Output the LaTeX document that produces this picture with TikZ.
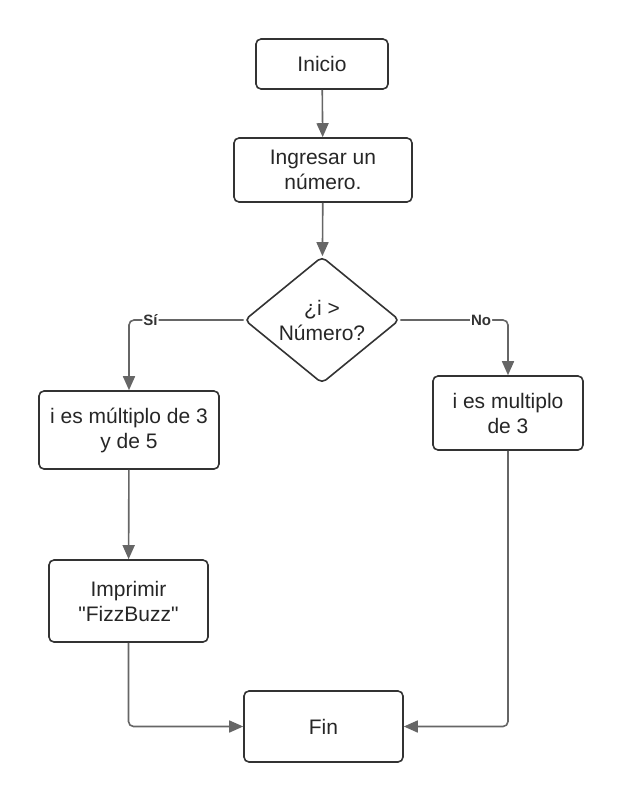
\documentclass[tikz,border=0pt]{standalone}
\usepackage{fontspec}
\setmainfont{Liberation Sans}
\usetikzlibrary{shapes.geometric, arrows.meta, positioning, calc}
\definecolor{borde}{HTML}{333333}
\definecolor{linea}{HTML}{666666}

\begin{document}
\begin{tikzpicture}[x=1pt, y=-1pt,
  caja/.style={draw=borde, line width=1.6pt, rounded corners=5pt, align=center,
    font=\fontsize{21}{25}\selectfont, text=black!85, inner sep=0pt},
  decision/.style={diamond, draw=borde, line width=1.6pt, rounded corners=5pt,
    align=center, font=\fontsize{21}{25}\selectfont, text=black!85,
    inner sep=0pt, minimum width=155pt, minimum height=115pt},
  flecha/.style={draw=linea, line width=1.6pt, rounded corners=5pt,
    -{Triangle[length=14pt, width=12pt]}},
  etiqueta/.style={fill=white, inner sep=1pt, text=borde,
    font=\fontsize{15}{15}\selectfont\bfseries}]
\useasboundingbox (0,0) rectangle (623,803);
% Flowchart FizzBuzz
\node[caja, minimum width=132pt, minimum height=50pt] (inicio) at (322,64) {Inicio};
\node[caja, minimum width=178pt, minimum height=64pt] (ingresar) at (323,170) {Ingresar un\\número.};
\node[decision] (cond) at (322,320) {¿i >\\Número?};

\node[caja, minimum width=180pt, minimum height=78pt] (ambos) at (129,430) {i es múltiplo de 3\\y de 5};
\node[caja, minimum width=150pt, minimum height=74pt] (tres) at (508,413) {i es multiplo\\de 3};
\node[caja, minimum width=159pt, minimum height=82pt] (imprimir) at (128.5,601) {Imprimir\\\textquotedbl FizzBuzz\textquotedbl};
\node[caja, minimum width=159pt, minimum height=71pt] (fin) at (323.5,726.5) {Fin};

\draw[flecha] (inicio) -- (ingresar);
\draw[flecha] (ingresar) -- (cond);
\draw[flecha] (cond.west) -| node[etiqueta, pos=0.406] {Sí} (ambos.north);
\draw[flecha] (cond.east) -| node[etiqueta, pos=0.375] {No} (tres.north);
\draw[flecha] (ambos) -- (imprimir);
\draw[flecha] (imprimir.south) |- (fin.west);
\draw[flecha] (tres.south) |- (fin.east);
\end{tikzpicture}
\end{document}
